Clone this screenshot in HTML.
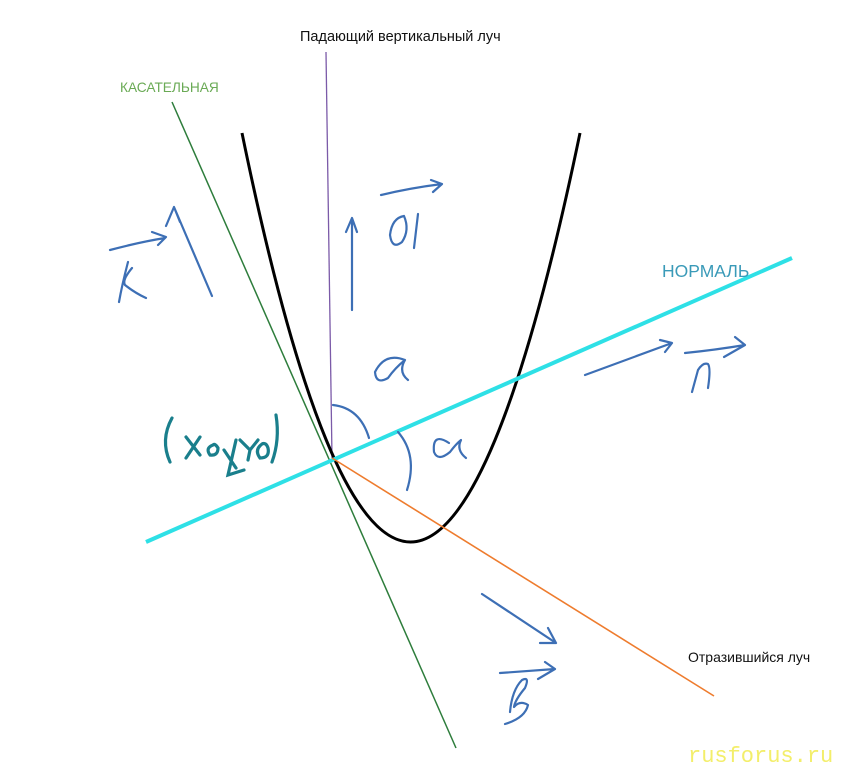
<!DOCTYPE html>
<html><head><meta charset="utf-8"><style>
html,body{margin:0;padding:0;background:#fff;}
svg{display:block;}
</style></head><body>
<svg width="842" height="770" viewBox="0 0 842 770" xmlns="http://www.w3.org/2000/svg" font-family="Liberation Sans, sans-serif">
<rect width="842" height="770" fill="#fff"/>
<line x1="326" y1="52" x2="332" y2="458" stroke="#7b5aa8" stroke-width="1.3"/>
<line x1="172" y1="102" x2="456" y2="748" stroke="#2e7d3c" stroke-width="1.5"/>
<path d="M242,133 Q410,951 580,133" fill="none" stroke="#000" stroke-width="3"/>
<line x1="146" y1="542" x2="792" y2="258" stroke="#2ee0e6" stroke-width="4"/>
<line x1="332" y1="458" x2="714" y2="696" stroke="#ee7c2e" stroke-width="1.6"/>
<g fill="none" stroke="#3d6fb5" stroke-width="2.2" stroke-linecap="round" stroke-linejoin="round">
<path d="M212,296 L174,207 M166,226 L174,207 L180,222"/>
<path d="M110,250 Q140,242 165,238 M152,232 L166,237 L158,245"/>
<path d="M128,262 Q122,285 119,302 M132,268 Q122,280 125,285 Q135,293 146,298"/>
<path d="M352,310 L352,218 M346,232 L352,218 L357,232"/>
<path d="M381,195 Q410,188 442,184 M431,180 L442,184 L433,192"/>
<path d="M404,216 Q392,218 390,235 Q392,250 402,242 Q410,230 404,216 M418,214 L414,248"/>
<path d="M405,360 Q385,352 375,372 Q376,385 388,378 Q395,368 405,360 Q398,372 408,380"/>
<path d="M449,443 Q432,432 434,452 Q438,462 450,452 Q456,444 461,440 Q456,450 466,458"/>
<path d="M333,405 Q360,408 369,438"/>
<path d="M398,432 Q418,455 407,490"/>
<path d="M585,375 L672,343 M660,340 L672,343 L665,352"/>
<path d="M685,353 Q715,350 745,345 M735,337 L745,345 L724,357"/>
<path d="M692,392 L698,370 Q703,362 708,364 Q711,368 708,388"/>
<path d="M482,594 L556,643 M548,628 L556,643 L540,643"/>
<path d="M500,673 L555,669 M545,662 L555,669 L538,679"/>
<path d="M510,712 Q512,690 522,680 Q530,676 525,688 Q515,700 514,707 Q520,700 528,705 Q525,718 505,724"/>
</g>
<g fill="none" stroke="#1a7f8c" stroke-width="3.2" stroke-linecap="round">
<path d="M172,418 Q160,440 170,462"/>
<path d="M186,437 L200,455 M200,437 L186,458"/>
<path d="M213,445 Q205,448 210,455 Q218,456 218,448 Q215,443 213,445"/>
<path d="M224,450 L236,468 M236,440 L228,475 L244,470"/>
<path d="M240,440 L250,450 L258,440 M250,450 L248,460"/>
<path d="M262,444 Q254,450 260,458 Q270,458 268,448 Q266,442 262,444"/>
<path d="M276,415 Q280,440 272,462"/>
</g>
<text x="300" y="41" font-size="14.5" fill="#111">Падающий вертикальный луч</text>
<text x="120" y="92" font-size="13.7" fill="#6aaa55">КАСАТЕЛЬНАЯ</text>
<text x="662" y="277" font-size="17.5" fill="#3a9ab8">НОРМАЛЬ</text>
<text x="688" y="662" font-size="14" fill="#111">Отразившийся луч</text>
<text x="688" y="762" font-size="22" fill="#f3ee6a" font-family="Liberation Mono, monospace">rusforus.ru</text>
</svg>
</body></html>
